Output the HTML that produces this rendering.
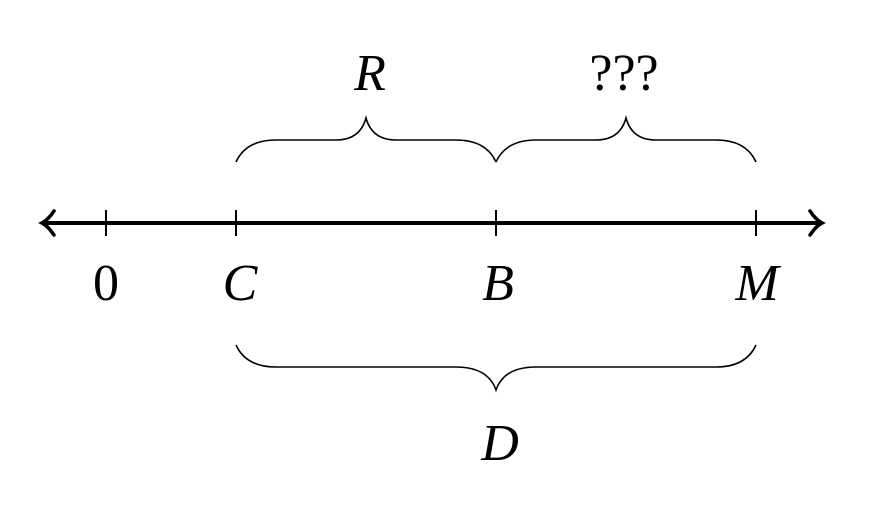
<!DOCTYPE html>
<html><head><style>
html,body{margin:0;padding:0;background:#fff;}
</style></head><body>
<svg width="885" height="505" viewBox="0 0 885 505" xmlns="http://www.w3.org/2000/svg" style="display:block">
<g stroke="#000" fill="none">
<line x1="44" y1="223" x2="820" y2="223" stroke-width="4"/>
<path d="M54,211 Q48,220 42,223 Q48,226 54,235" stroke-width="3.5" stroke-linecap="round"/>
<path d="M810,211 Q816,220 822,223 Q816,226 810,235" stroke-width="3.5" stroke-linecap="round"/>
<g stroke-width="2">
<line x1="106" y1="210" x2="106" y2="236"/>
<line x1="236" y1="210" x2="236" y2="236"/>
<line x1="496" y1="210" x2="496" y2="236"/>
<line x1="756" y1="210" x2="756" y2="236"/>
</g>
<g stroke-width="1.6">
<path d="M236,162 Q246,140 276,140 L336,140 Q360,140 366,118 Q372,140 396,140 L456,140 Q486,140 496,162"/>
<path d="M496,162 Q506,140 536,140 L596,140 Q620,140 626,118 Q632,140 656,140 L716,140 Q746,140 756,162"/>
<path d="M236,345 Q246,367 276,367 L456,367 Q488,367 496,390 Q504,367 536,367 L716,367 Q746,367 756,345"/>
</g>
</g>
<g font-family="Liberation Serif, serif" font-size="52" text-anchor="middle" fill="#000">
<text x="370" y="90" font-style="italic">R</text>
<text x="624" y="90">???</text>
<text x="106" y="300">0</text>
<text x="240" y="300" font-style="italic">C</text>
<text x="498" y="300" font-style="italic">B</text>
<text x="757" y="300" font-style="italic">M</text>
<text x="500" y="460" font-style="italic">D</text>
</g>
</svg>
</body></html>
